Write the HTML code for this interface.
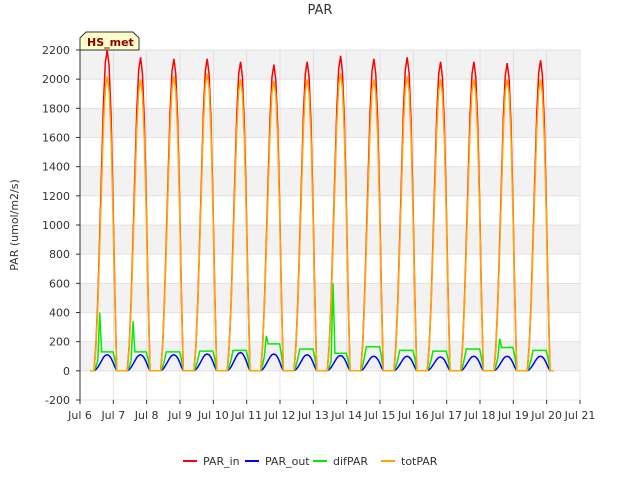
<!DOCTYPE html>
<html><head><meta charset="utf-8"><style>
body{margin:0;background:#fff;font-family:"Liberation Sans","DejaVu Sans",sans-serif}
</style></head><body>
<svg id="c" width="640" height="480" xmlns="http://www.w3.org/2000/svg" font-family="'DejaVu Sans','Liberation Sans',sans-serif">
<rect width="640" height="480" fill="#fff"/>
<text x="320" y="14" text-anchor="middle" font-size="13" fill="#333">PAR</text>
<g id="grid"></g>
<g id="series"></g>
<g id="axes"></g>
<text transform="translate(18,225) rotate(-90)" text-anchor="middle" font-size="11" fill="#333">PAR (umol/m2/s)</text>
<g>
<path d="M80,50 L80,38 L86,32 L133,32 L139,38 L139,50 Z" fill="#ffffcc" stroke="#333"/>
<text x="87" y="46" font-size="11" font-weight="bold" fill="#8b0000">HS_met</text>
</g>
<g id="legend"></g>
</svg>
<script>
const NS="http://www.w3.org/2000/svg";
const yTicks=[-200,0,200,400,600,800,1000,1200,1400,1600,1800,2000,2200];
const xTickLabels=["Jul 6","Jul 7","Jul 8","Jul 9","Jul 10","Jul 11","Jul 12","Jul 13","Jul 14","Jul 15","Jul 16","Jul 17","Jul 18","Jul 19","Jul 20","Jul 21"];
const parInPeaks=[2200,2150,2140,2140,2120,2100,2120,2160,2140,2150,2120,2120,2110,2130];
const totParPeaks=[2020,2000,2020,2040,2000,1990,2000,2040,2000,2020,2000,2000,2000,2000];
const parOutPeaks=[110,110,110,115,125,115,110,105,100,100,95,100,100,100];
const difParPeaks=[400,340,130,135,140,240,150,600,165,140,135,150,220,140];
const difParBase=[130,130,130,135,140,185,150,120,165,140,135,150,160,140];
const profile=[0,0.08,0.22,0.42,0.63,0.83,0.96,1,0.95,0.8,0.55,0.25,0];
const X0=80,X1=580,Y0=50,Y1=400,YMIN=-200,YMAX=2200;
const xs=t=>X0+(X1-X0)*t/15;
const ys=v=>Y1-(Y1-Y0)*(v-YMIN)/(YMAX-YMIN);
function mk(tag,attrs,parent){const e=document.createElementNS(NS,tag);for(const k in attrs)e.setAttribute(k,attrs[k]);parent.appendChild(e);return e;}
const grid=document.getElementById('grid');
for(let i=0;i<yTicks.length-1;i++){
 const r=mk('rect',{x:X0,y:ys(yTicks[i+1]),width:X1-X0,height:ys(yTicks[i])-ys(yTicks[i+1]),fill:(i%2===1)?'#f2f2f2':'#fff'},grid);
 
 
}
yTicks.forEach(v=>{const l=mk('line',{x1:X0,x2:X1,y1:ys(v),y2:ys(v),stroke:'#ddd','stroke-width':0.8},grid);
 });
xTickLabels.forEach((s,i)=>{const l=mk('line',{x1:xs(i),x2:xs(i),y1:Y0,y2:Y1,stroke:'#ddd','stroke-width':0.8},grid);
 });
const axes=document.getElementById('axes');
const ax=mk('line',{x1:X0,x2:X0,y1:Y0,y2:Y1,stroke:'#333'},axes);

yTicks.forEach(v=>{const t=mk('text',{x:X0-10,y:ys(v)+4,'text-anchor':'end','font-size':11,fill:'#333'},axes);t.textContent=v;
 
 mk('line',{x1:X0-4,x2:X0,y1:ys(v),y2:ys(v),stroke:'#333'},axes);});
xTickLabels.forEach((s,i)=>{const t=mk('text',{x:xs(i),y:Y1+19,'text-anchor':'middle','font-size':11,fill:'#333'},axes);t.textContent=s;
 
 mk('line',{x1:xs(i),x2:xs(i),y1:Y1,y2:Y1+4,stroke:'#333'},axes);});
function seriesPts(peaks,base){
 const pts=[[0.3,0]];
 peaks.forEach((p,d)=>{
  const rise=d+0.42,span=0.68;
  profile.forEach((f,k)=>{
   const t=rise+span*k/(profile.length-1);
   let v=f*p;
   if(base){v=Math.min(f*2.5,1)*base[d];if(k===3)v=p;}
   pts.push([t,v]);
  });
 });
 pts.push([14.2,0]);
 return pts;
}
const ser=document.getElementById('series');
const defs=[["PAR_in","#ff0000",seriesPts(parInPeaks)],["PAR_out","#0000ff",seriesPts(parOutPeaks)],["difPAR","#00ee00",seriesPts(difParPeaks,difParBase)],["totPAR","#ffa500",seriesPts(totParPeaks)]];
defs.forEach(([n,c,pts])=>{
 const p=mk('polyline',{points:pts.map(q=>xs(q[0]).toFixed(1)+','+ys(q[1]).toFixed(1)).join(' '),fill:'none',stroke:c,'stroke-width':1.5},ser);
 
 
});
const leg=document.getElementById('legend');
const lx=[183,245,313,381];
defs.forEach(([n,c],i)=>{
 const g=mk('g',{},leg);
 
 
 mk('line',{x1:lx[i],x2:lx[i]+14,y1:461,y2:461,stroke:c,'stroke-width':2},g);
 const t=mk('text',{x:lx[i]+20,y:465,'font-size':11,fill:'#333'},g);t.textContent=n;
});
</script>
</body></html>
